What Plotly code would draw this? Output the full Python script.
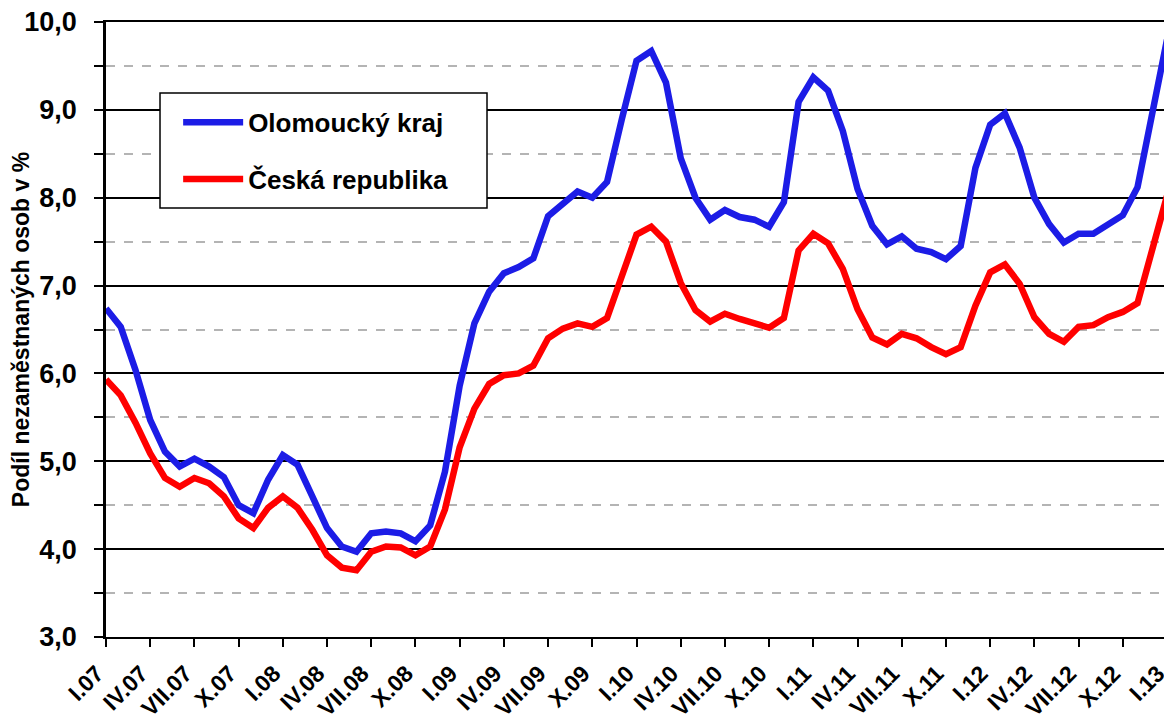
import plotly.graph_objects as go

romans = ["I", "II", "III", "IV", "V", "VI", "VII", "VIII", "IX", "X", "XI", "XII"]
years = ["07", "08", "09", "10", "11", "12", "13"]
months = [f"{r}.{y}" for y in years for r in romans][:73]
tick_labels = months[::3]

olomoucky = [
    6.74, 6.53, 6.04, 5.47, 5.11, 4.94, 5.03, 4.94, 4.82, 4.50, 4.41, 4.79,
    5.07, 4.96, 4.60, 4.24, 4.03, 3.97, 4.18, 4.20, 4.18, 4.09, 4.27, 4.88,
    5.86, 6.57, 6.93, 7.14, 7.21, 7.31, 7.79, 7.92, 8.07, 8.00, 8.18, 8.89,
    9.56, 9.67, 9.31, 8.45, 8.00, 7.75, 7.86, 7.78, 7.75, 7.67, 7.95, 9.09,
    9.37, 9.22, 8.76, 8.10, 7.68, 7.47, 7.56, 7.42, 7.38, 7.30, 7.45, 8.34,
    8.83, 8.96, 8.57, 8.00, 7.70, 7.49, 7.59, 7.59, 7.69, 7.80, 8.12, 8.93,
    9.80,
]
cr = [
    5.93, 5.75, 5.44, 5.09, 4.81, 4.71, 4.81, 4.75, 4.60, 4.35, 4.24, 4.47,
    4.60, 4.47, 4.22, 3.93, 3.79, 3.76, 3.97, 4.03, 4.02, 3.93, 4.03, 4.45,
    5.16, 5.60, 5.88, 5.98, 6.00, 6.09, 6.40, 6.51, 6.57, 6.53, 6.63, 7.12,
    7.58, 7.67, 7.50, 7.03, 6.72, 6.59, 6.68, 6.62, 6.57, 6.52, 6.63, 7.40,
    7.59, 7.48, 7.19, 6.73, 6.41, 6.33, 6.45, 6.40, 6.30, 6.22, 6.30, 6.77,
    7.15, 7.24, 7.02, 6.64, 6.45, 6.36, 6.53, 6.55, 6.64, 6.70, 6.80, 7.38,
    8.02,
]

FONT = "Liberation Sans, Arial, sans-serif"

fig = go.Figure()
fig.add_trace(go.Scatter(
    x=months, y=olomoucky, mode="lines", name="Olomoucký kraj",
    line=dict(color="#1c1ce6", width=6.5), legendgroup="a",
))
fig.add_trace(go.Scatter(
    x=months, y=cr, mode="lines", name="Česká republika",
    line=dict(color="#ff0000", width=6.5), legendgroup="b",
))

fig.update_layout(
    width=1164, height=707,
    margin=dict(l=98, r=5, t=14, b=78, autoexpand=False),
    paper_bgcolor="white", plot_bgcolor="white",
    separators=", ",
    font=dict(family=FONT, color="black", size=22, weight="bold"),
    showlegend=True,
    legend=dict(
        x=0.068, y=0.875, xanchor="left", yanchor="top",
        bgcolor="rgba(0,0,0,0)", borderwidth=0,
        font=dict(family=FONT, size=26, color="black", weight="bold"),
        itemwidth=60, tracegroupgap=20, traceorder="grouped",
    ),
    shapes=[dict(
        type="rect", xref="paper", yref="paper",
        x0=0.0509, x1=0.3591, y0=0.6976, y1=0.8846,
        line=dict(color="black", width=1.5), fillcolor="white", layer="above",
    )],
)

fig.update_xaxes(
    type="category", range=[0, 72],
    tickmode="array", tickvals=tick_labels, ticktext=tick_labels,
    tickangle=-45, ticks="outside", ticklen=8, tickwidth=2, tickcolor="black",
    showline=True, linecolor="black", linewidth=2, mirror=True,
    showgrid=False, zeroline=False, ticklabeloverflow="allow",
    ticklabelshift=-9, ticklabelstandoff=4,
    tickfont=dict(family=FONT, size=23, color="black", weight="bold"),
)
fig.update_yaxes(
    range=[3, 10], dtick=1, tick0=3, tickformat=".1f",
    ticks="outside", ticklen=9, tickwidth=2, tickcolor="black",
    showline=True, linecolor="black", linewidth=2.5, mirror=True,
    showgrid=True, gridcolor="black", gridwidth=1.5, zeroline=False,
    ticklabelstandoff=12, ticklabeloverflow="allow",
    tickfont=dict(family=FONT, size=27, color="black", weight="bold"),
    minor=dict(dtick=0.5, tick0=3, showgrid=True, gridcolor="#b4b4b4",
               griddash="dash", gridwidth=1.5, ticks="outside", ticklen=9,
               tickwidth=2, tickcolor="black"),
    title=dict(text="Podíl nezaměstnaných osob v %", standoff=0,
               font=dict(family=FONT, size=23, color="black", weight="bold")),
)

fig.write_html("out.html")
